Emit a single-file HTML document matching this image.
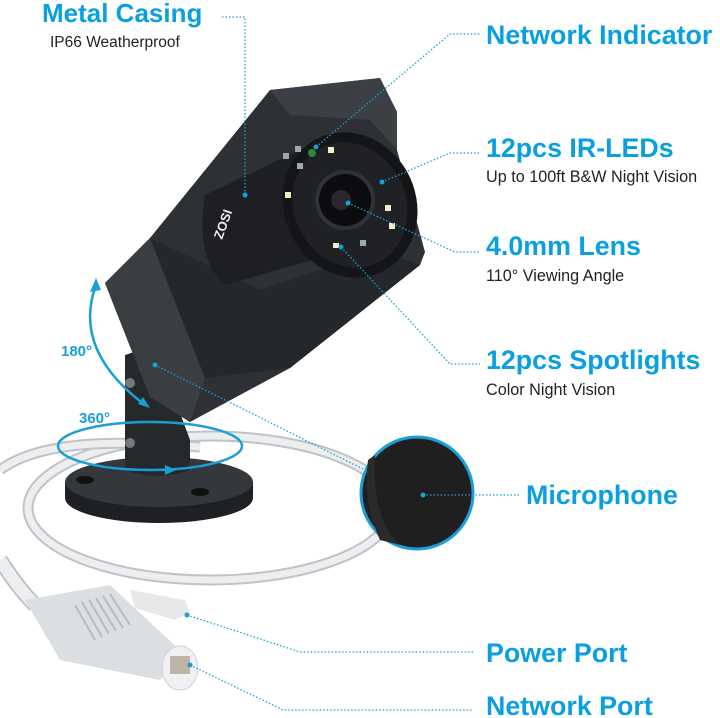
<!DOCTYPE html>
<html><head><meta charset="utf-8"><style>
body{margin:0;background:#fff}
svg{display:block}
.t{font-family:"Liberation Sans",sans-serif;font-weight:bold;fill:#0aa0e0;font-size:26.8px}
.s{font-family:"Liberation Sans",sans-serif;fill:#222;font-size:16.2px}
.d{fill:none;stroke:#1a9fd6;stroke-width:1.3;stroke-dasharray:1.5 2}
</style></head><body>
<svg width="720" height="718" viewBox="0 0 720 718">
<!-- cable loop -->
<ellipse cx="210" cy="508" rx="182" ry="72" fill="none" stroke="#bfc3c7" stroke-width="11"/>
<ellipse cx="210" cy="508" rx="182" ry="72" fill="none" stroke="#eceeef" stroke-width="7"/>
<path d="M0,470 C40,440 120,440 200,447" fill="none" stroke="#bfc3c7" stroke-width="11"/>
<path d="M0,470 C40,440 120,440 200,447" fill="none" stroke="#eceeef" stroke-width="7"/>
<path d="M0,560 C10,575 20,590 35,605" fill="none" stroke="#bfc3c7" stroke-width="16"/>
<path d="M0,560 C10,575 20,590 35,605" fill="none" stroke="#eceeef" stroke-width="12"/>
<!-- connector -->
<path d="M25,600 L110,585 L185,655 L160,680 L60,660 Z" fill="#dcdfe1"/>
<path d="M130,590 L185,600 L190,612 L175,620 L135,608Z" fill="#e6e8ea"/>
<ellipse cx="180" cy="668" rx="18" ry="22" fill="#eef0f1" stroke="#cfd3d6"/>
<rect x="170" y="656" width="20" height="18" fill="#bdb6a6"/>
<g stroke="#b8bcc0" stroke-width="2"><line x1="75" y1="605" x2="95" y2="640"/><line x1="82" y1="602" x2="102" y2="637"/><line x1="89" y1="600" x2="109" y2="634"/><line x1="96" y1="598" x2="116" y2="631"/><line x1="103" y1="596" x2="123" y2="628"/><line x1="110" y1="594" x2="130" y2="625"/></g>
<!-- base -->
<path d="M65,482 L65,498 A94 25 0 0 0 253,498 L253,482 Z" fill="#1e2023"/>
<ellipse cx="159" cy="482" rx="94" ry="25" fill="#34373b"/>
<ellipse cx="85" cy="480" rx="9" ry="4" fill="#111"/><ellipse cx="200" cy="492" rx="9" ry="4" fill="#111"/>
<!-- stem -->
<path d="M125,355 L155,345 L190,440 L190,470 Q158,482 125,470 Z" fill="#26292c"/>
<circle cx="130" cy="383" r="5" fill="#777"/><circle cx="130" cy="443" r="5" fill="#777"/>
<!-- body -->
<path d="M105,283 L150,238 L270,90 L380,78 L397,112 L397,150 L425,252 L420,265 L290,368 L190,422 L150,397 Z" fill="#2d3034"/>
<path d="M105,283 L150,238 L205,378 L190,422 L150,397 Z" fill="#3a3d42"/>
<path d="M150,238 L205,378 L290,368 L420,265 L380,250 L260,290 Z" fill="#25282b"/>
<path d="M270,90 L380,78 L397,112 L397,150 L370,120 L290,115 Z" fill="#3c3f44"/>
<!-- barrel -->
<path d="M205,195 Q195,260 225,285 L330,255 L300,150 Z" fill="#1d1f22"/>
<text x="222" y="240" transform="rotate(-70 222 240)" font-family="Liberation Sans,sans-serif" font-weight="bold" font-size="13" fill="#eee">ZOSI</text>
<ellipse cx="350" cy="205" rx="66" ry="74" transform="rotate(-25 350 205)" fill="#141517"/>
<ellipse cx="350" cy="205" rx="56" ry="64" transform="rotate(-25 350 205)" fill="#1f2124"/>
<circle cx="345" cy="200" r="28" fill="#0c0c0e" stroke="#2f3236" stroke-width="4"/>
<circle cx="341" cy="200" r="10" fill="#2a2630"/>
<g fill="#f4efc8"><rect x="328" y="147" width="6" height="6"/><rect x="285" y="192" width="6" height="6"/><rect x="385" y="205" width="6" height="6"/><rect x="389" y="223" width="6" height="6"/><rect x="333" y="243" width="6" height="5"/></g>
<g fill="#9aa"><rect x="283" y="153" width="6" height="6"/><rect x="295" y="146" width="6" height="6"/><rect x="297" y="163" width="6" height="6"/><rect x="360" y="240" width="6" height="6"/></g>
<circle cx="312" cy="153" r="4" fill="#2a8a3a"/>
<!-- mic -->
<circle cx="417" cy="493" r="56" fill="#1f1f1f" stroke="#1a9fd6" stroke-width="3"/>
<path d="M375,455 Q372,520 400,545 L380,540 Q362,500 368,460Z" fill="#2a2a2a"/>
<!-- rotation arrows -->
<path d="M96,285 Q72,350 145,405" fill="none" stroke="#1a9fd6" stroke-width="2.5"/>
<polygon points="96,278 90,292 101,290" fill="#1a9fd6"/><polygon points="150,408 138,404 143,397" fill="#1a9fd6"/>
<ellipse cx="150" cy="446" rx="92" ry="24" fill="none" stroke="#1a9fd6" stroke-width="2.5"/>
<polygon points="176,470 165,465 165,475" fill="#1a9fd6"/>
<text x="61" y="356" font-family="Liberation Sans,sans-serif" font-weight="bold" font-size="15" fill="#1a9fd6">180°</text>
<text x="79" y="423" font-family="Liberation Sans,sans-serif" font-weight="bold" font-size="15" fill="#1a9fd6">360°</text>
<!-- leaders -->
<path class="d" d="M222,17 H245 V195"/>
<path class="d" d="M316,147 L450,34 H480"/>
<path class="d" d="M382,182 L450,153 H480"/>
<path class="d" d="M348,203 L455,252 H480"/>
<path class="d" d="M341,247 L450,364 H480"/>
<path class="d" d="M155,365 L365,470"/>
<path class="d" d="M423,495 H520"/>
<path class="d" d="M187,615 L300,652 H475"/>
<path class="d" d="M190,665 L283,710 H473"/>
<g fill="#1a9fd6"><circle cx="245" cy="195" r="2.5"/><circle cx="316" cy="147" r="2.5"/><circle cx="382" cy="182" r="2.5"/><circle cx="348" cy="203" r="2.5"/><circle cx="341" cy="247" r="2.5"/><circle cx="155" cy="365" r="2.5"/><circle cx="423" cy="495" r="2.5"/><circle cx="187" cy="615" r="2.5"/><circle cx="190" cy="665" r="2.5"/></g>
<!-- labels -->
<text class="t" x="42" y="22" style="font-size:26px">Metal Casing</text>
<text class="s" x="50" y="47" style="font-size:15.5px">IP66 Weatherproof</text>
<text class="t" x="486" y="44">Network Indicator</text>
<text class="t" x="486" y="157">12pcs IR-LEDs</text>
<text class="s" x="486" y="182">Up to 100ft B&amp;W Night Vision</text>
<text class="t" x="486" y="255">4.0mm Lens</text>
<text class="s" x="486" y="281">110° Viewing Angle</text>
<text class="t" x="486" y="369">12pcs Spotlights</text>
<text class="s" x="486" y="395">Color Night Vision</text>
<text class="t" x="526" y="504">Microphone</text>
<text class="t" x="486" y="662">Power Port</text>
<text class="t" x="486" y="715">Network Port</text>
</svg>
</body></html>
